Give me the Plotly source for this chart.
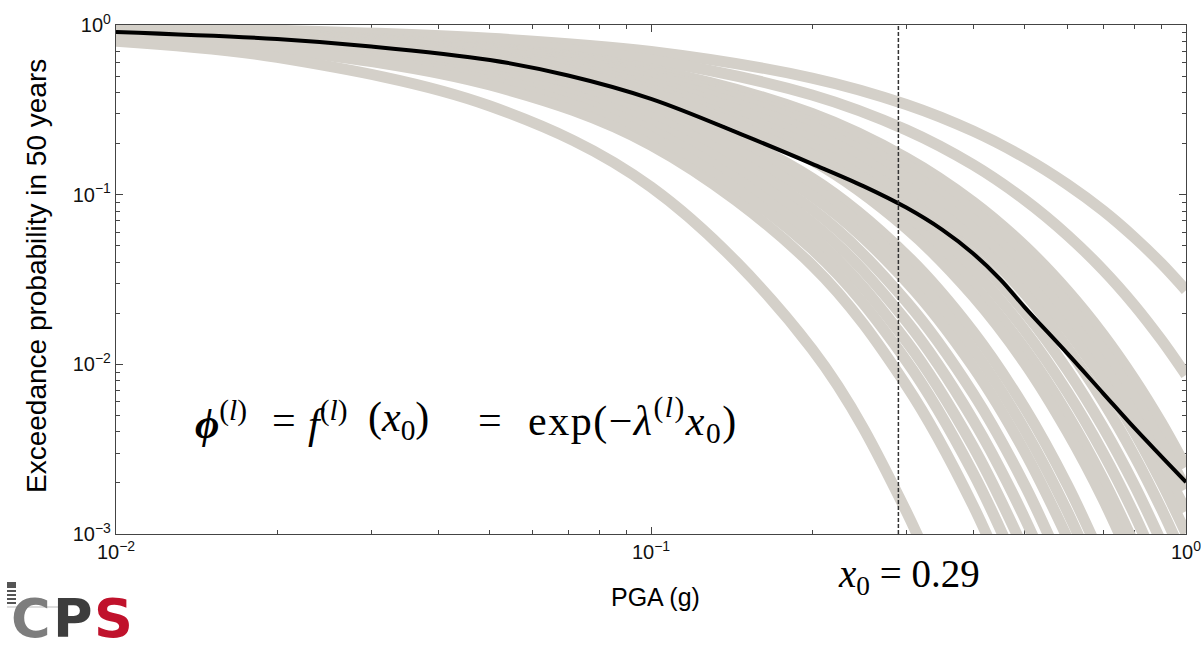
import plotly.graph_objects as go

# PGA grid (g) at which every branch hazard curve is tabulated
pga = [0.01, 0.02, 0.05, 0.1, 0.2, 0.3, 0.4, 0.5, 0.6, 0.7, 0.8, 0.9, 1.0]

# Exceedance probability in 50 years for each logic-tree branch
branch_curves = [
    [0.965, 0.931, 0.835, 0.698, 0.487, 0.340, 0.237, 0.165, 0.115, 0.0805, 0.0561, 0.0392, 0.0273],
    [0.954, 0.909, 0.789, 0.622, 0.387, 0.241, 0.150, 0.0930, 0.0578, 0.0360, 0.0224, 0.0139, 0.00865],
    [0.942, 0.887, 0.741, 0.549, 0.301, 0.165, 0.0907, 0.0498, 0.0273, 0.0150, 0.00823, 0.00452, 0.00248],
    [0.939, 0.882, 0.730, 0.533, 0.284, 0.151, 0.0805, 0.0429, 0.0228, 0.0122, 0.00647, 0.00345, 0.00184],
    [0.936, 0.876, 0.719, 0.517, 0.267, 0.138, 0.0714, 0.0369, 0.0191, 0.00985, 0.00509, 0.00263, 0.00136],
    [0.933, 0.871, 0.708, 0.502, 0.252, 0.126, 0.0633, 0.0317, 0.0159, 0.00799, 0.00401, 0.00201, 0.00101],
    [0.930, 0.864, 0.694, 0.482, 0.232, 0.112, 0.0539, 0.0260, 0.0125, 0.00604, 0.00291, 0.00140, 0.000676],
    [0.925, 0.856, 0.677, 0.458, 0.210, 0.0963, 0.0442, 0.0202, 0.00928, 0.00425, 0.00195, 0.000894],
    [0.920, 0.847, 0.660, 0.436, 0.190, 0.0829, 0.0362, 0.0158, 0.00687, 0.00300, 0.00131, 0.000570],
    [0.916, 0.839, 0.644, 0.415, 0.172, 0.0714, 0.0296, 0.0123, 0.00509, 0.00211, 0.000876],
    [0.912, 0.832, 0.631, 0.399, 0.159, 0.0633, 0.0252, 0.0101, 0.00400, 0.00160, 0.000636],
    [0.901, 0.812, 0.595, 0.353, 0.125, 0.0442, 0.0156, 0.00552, 0.00195, 0.000689],
    [0.896, 0.803, 0.577, 0.333, 0.111, 0.0369, 0.0123, 0.00409, 0.00136, 0.000453],
    [0.890, 0.793, 0.560, 0.313, 0.0983, 0.0308, 0.00966, 0.00303, 0.000950],
    [0.882, 0.779, 0.535, 0.287, 0.0821, 0.0235, 0.00674, 0.00193, 0.000553],
    [0.875, 0.765, 0.512, 0.262, 0.0686, 0.0180, 0.00470, 0.00123, 0.000322],
    [0.867, 0.751, 0.489, 0.239, 0.0573, 0.0137, 0.00328, 0.000785],
    [0.859, 0.738, 0.468, 0.219, 0.0478, 0.0105, 0.00229, 0.000500],
    [0.850, 0.722, 0.443, 0.196, 0.0384, 0.00752, 0.00147, 0.000289],
    [0.803, 0.644, 0.333, 0.111, 0.0123, 0.00136, 0.000151],
]

# Mean hazard curve over all branches (finer PGA grid)
mean_pga = [0.01, 0.02, 0.03, 0.05, 0.07, 0.1, 0.15, 0.2, 0.25, 0.3, 0.35, 0.4,
            0.45, 0.5, 0.6, 0.7, 0.8, 0.9, 1.0]
mean_curve = [0.910, 0.827, 0.747, 0.622, 0.504, 0.367, 0.222, 0.152, 0.112, 0.0839,
              0.0622, 0.0450, 0.0316, 0.0216, 0.0116, 0.00675, 0.00423, 0.00286, 0.00202]

# Chosen ground-motion level
x0 = 0.29

x_tickvals = [0.01, 0.1, 1]
x_ticktext = ["10<sup>−2</sup>", "10<sup>−1</sup>", "10<sup>0</sup>"]
y_tickvals = [0.001, 0.01, 0.1, 1]
y_ticktext = ["10<sup>−3</sup>", "10<sup>−2</sup>", "10<sup>−1</sup>", "10<sup>0</sup>"]
x_minor = [m * d for d in (0.01, 0.1) for m in range(2, 10)]
y_minor = [m * d for d in (0.001, 0.01, 0.1) for m in range(2, 10)]

GRAY = "#d4d0c9"
AXIS = "#444444"

fig = go.Figure()

for ys in branch_curves:
    fig.add_trace(go.Scatter(
        x=pga[:len(ys)], y=ys, mode="lines",
        line=dict(color=GRAY, width=11, shape="spline", smoothing=1.0, simplify=False),
        hoverinfo="skip", showlegend=False,
    ))

fig.add_trace(go.Scatter(
    x=mean_pga, y=mean_curve, mode="lines",
    line=dict(color="#000000", width=4, shape="spline", smoothing=1.0, simplify=False),
    showlegend=False,
))

fig.add_trace(go.Scatter(
    x=[x0, x0], y=[0.001, 1], mode="lines",
    line=dict(color="#333333", width=1.5, dash="4px,2px"),
    showlegend=False,
))

axis_common = dict(
    type="log",
    automargin=False,
    showgrid=False,
    zeroline=False,
    showline=True,
    linecolor=AXIS,
    linewidth=1.2,
    mirror="ticks",
    ticks="inside",
    ticklen=7,
    tickwidth=1,
    tickcolor=AXIS,
    tickmode="array",
    ticklabeloverflow="allow",
    layer="below traces",
    tickfont=dict(family="Liberation Sans, Arial, sans-serif", size=20, color="#111111"),
)

fig.update_xaxes(
    **axis_common,
    range=[-2, 0],
    tickvals=x_tickvals,
    ticktext=x_ticktext,
    minor=dict(tickmode="array", tickvals=x_minor, ticks="inside", ticklen=4,
               tickcolor=AXIS, tickwidth=1, showgrid=False),
)
fig.update_yaxes(
    **axis_common,
    range=[-3, 0],
    tickvals=y_tickvals,
    ticktext=y_ticktext,
    minor=dict(tickmode="array", tickvals=y_minor, ticks="inside", ticklen=4,
               tickcolor=AXIS, tickwidth=1, showgrid=False),
)

SERIF = "Liberation Serif, Times New Roman, serif"
SANS = "Liberation Sans, Arial, sans-serif"

L, R, T, B, W, H = 116, 15, 25, 116, 1201, 650
PW, PH = W - L - R, H - T - B


def px(xp):
    return (xp - L) / PW


def py(yp):
    return (T + PH - yp) / PH


annotations = []

# formula pieces, laid out left to right
formula_parts = [
    (193, "<b><i>ϕ</i></b><sup>(<i>l</i>)</sup>"),
    (270, "="),
    (306, "<i>f</i><sup>(<i>l</i>)</sup>"),
    (366, "(<i>x</i><sub>0</sub>)"),
    (476, "="),
    (526, "<span style='letter-spacing:1.5px'>exp(−<i>λ</i><sup>(<i>l</i>)</sup><i>x</i><sub>0</sub>)</span>"),
]
for xp, txt in formula_parts:
    annotations.append(dict(
        text=txt, xref="paper", yref="paper", x=px(xp), y=py(420),
        xanchor="left", yanchor="middle", showarrow=False,
        font=dict(family=SERIF, size=42, color="#000000"),
    ))

annotations += [
    dict(
        text="<i>x</i><sub>0</sub> = 0.29",
        xref="paper", yref="paper", x=px(836), y=py(576),
        xanchor="left", yanchor="middle", showarrow=False,
        font=dict(family=SERIF, size=39, color="#000000"),
    ),
    dict(
        text="PGA (g)",
        xref="paper", yref="paper", x=px(656), y=py(597),
        xanchor="center", yanchor="middle", showarrow=False,
        font=dict(family=SANS, size=25, color="#000000"),
    ),
    dict(
        text="Exceedance probability in 50 years",
        xref="paper", yref="paper", x=px(36), y=py(276), textangle=-90,
        xanchor="center", yanchor="middle", showarrow=False,
        font=dict(family=SANS, size=28, color="#000000"),
    ),
]

# logo letters
for xc, letter, col in [(31, "C", "#7d7d7d"), (73, "P", "#3d3d3d"), (113, "S", "#c0122c")]:
    annotations.append(dict(
        text="<b>" + letter + "</b>", xref="paper", yref="paper",
        x=px(xc), y=py(652), xanchor="center", yanchor="bottom", showarrow=False,
        font=dict(family="DejaVu Sans, sans-serif", size=54, color=col),
    ))

# small striped mark above the logo
shapes = []
for top, bot in [(582, 588), (590, 592), (594, 596), (598, 600), (602, 604)]:
    shapes.append(dict(
        type="rect", xref="paper", yref="paper",
        x0=px(7), x1=px(16), y0=py(bot), y1=py(top),
        fillcolor="#555555", line=dict(width=0),
    ))
shapes.append(dict(
    type="line", xref="paper", yref="paper",
    x0=px(7), x1=px(65), y0=py(607), y1=py(607),
    line=dict(color="#bbbbbb", width=1),
))

fig.update_layout(
    width=W, height=H,
    margin=dict(l=L, r=R, t=T, b=B),
    paper_bgcolor="white",
    plot_bgcolor="white",
    showlegend=False,
    annotations=annotations,
    shapes=shapes,
)

# keep the page free of scrollbars so the full figure width is shown
fig.write_html(
    "out.html",
    post_script=("document.documentElement.style.overflow='hidden';"
                 "document.body.style.overflow='hidden';"
                 "document.body.style.margin='0';"),
)
